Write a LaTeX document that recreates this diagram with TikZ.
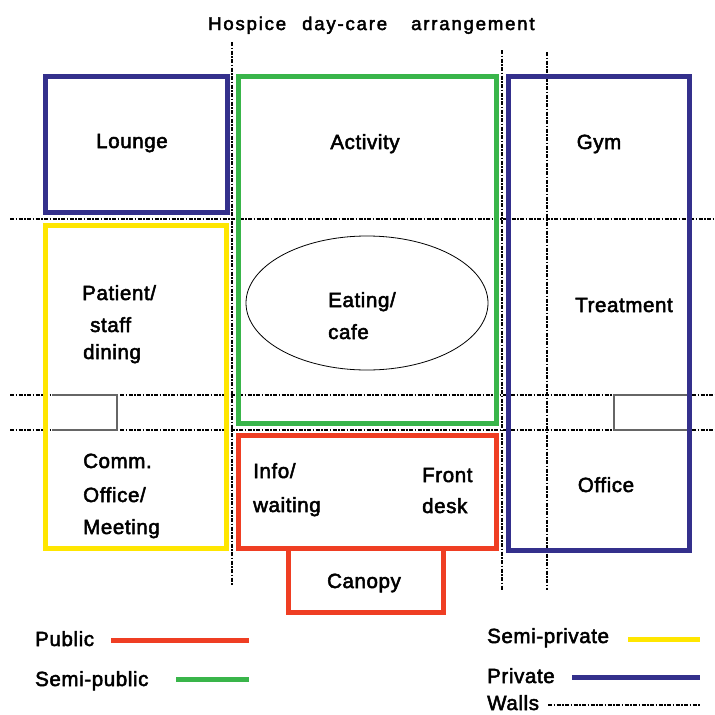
\documentclass[tikz,border=0pt]{standalone}
\usepackage{fontspec}
\setmainfont{Liberation Sans}[LetterSpace=3, FakeBold=2.5]
\newfontfamily\titlefont{Liberation Sans}[LetterSpace=10, FakeBold=2.5]
\definecolor{navy}{RGB}{52,48,140}
\definecolor{grn}{RGB}{57,181,74}
\definecolor{yel}{RGB}{255,230,0}
\definecolor{rd}{RGB}{239,62,35}
\tikzset{
  wall/.style={line width=2.2pt, dash pattern=on 4pt off 1.5pt on 1.5pt off 1.5pt},
  zone/.style={line width=5pt},
  lbl/.style={inner sep=0pt, font=\fontsize{20.5}{24}\selectfont},
  ttl/.style={inner sep=0pt, font=\titlefont\fontsize{18.5}{22}\selectfont, anchor=base west},
  legline/.style={line width=5pt},
  smallbox/.style={draw=gray!80!black, line width=1.4pt}
}
\begin{document}
\begin{tikzpicture}[x=1pt,y=-1pt]
\useasboundingbox (0,0) rectangle (715,715);
\clip (0,0) rectangle (715,715);
% title
\node[ttl] (t1) at (208,30) {Hospice};
\node[ttl] (t2) at (302,30) {day-care};
\node[ttl] (t3) at (411,30) {arrangement};
% walls
\draw[wall] (232,42) -- (232,585);
\draw[wall] (502,50) -- (502,590);
\draw[wall] (547,52) -- (547,590);
\draw[wall] (10,219) -- (715,219);
\draw[wall] (10,395) -- (52,395);
\draw[wall] (120,395) -- (612,395);
\draw[wall] (692,395) -- (715,395);
\draw[wall] (10,430) -- (52,430);
\draw[wall] (120,430) -- (612,430);
\draw[wall] (692,430) -- (715,430);
% small boxes
\draw[smallbox] (52,395) -- (117,395) -- (117,430) -- (52,430);
\draw[smallbox] (689,395) -- (614,395) -- (614,430) -- (689,430);
% zones
\draw[zone, navy] (45,76) rectangle (227,212);
\draw[zone, yel] (45,225) rectangle (226,548);
\draw[zone, grn] (238,76) rectangle (496,423);
\draw[zone, rd] (288,548) rectangle (443,612);
\draw[zone, rd] (238,435) rectangle (496,548);
\draw[zone, navy] (508,76) rectangle (689,550);
\draw[line width=0.8pt] (367,303) ellipse [x radius=121, y radius=67];
% labels
\node[lbl, anchor=base] (lounge) at (132,148) {Lounge};
\node[lbl, anchor=base] (activity) at (365,149) {Activity};
\node[lbl, anchor=base] (gym) at (599,149) {Gym};
\node[lbl, anchor=base west] (pat1) at (82,300) {Patient/};
\node[lbl, anchor=base west] (pat2) at (90,332) {staff};
\node[lbl, anchor=base west] (pat3) at (83,359) {dining};
\node[lbl, anchor=base west] (eat1) at (328,307) {Eating/};
\node[lbl, anchor=base west] (eat2) at (328,339) {cafe};
\node[lbl, anchor=base] (treat) at (624,312) {Treatment};
\node[lbl, anchor=base west] (com1) at (83,468) {Comm.};
\node[lbl, anchor=base west] (com2) at (83,502) {Office/};
\node[lbl, anchor=base west] (com3) at (83,534) {Meeting};
\node[lbl, anchor=base west] (info1) at (253,478) {Info/};
\node[lbl, anchor=base west] (info2) at (253,512) {waiting};
\node[lbl, anchor=base west] (fd1) at (422,482) {Front};
\node[lbl, anchor=base west] (fd2) at (422,513) {desk};
\node[lbl, anchor=base] (office) at (606,492) {Office};
\node[lbl, anchor=base] (canopy) at (364,588) {Canopy};
% legend
\node[lbl, anchor=base west] (lpub) at (35,646) {Public};
\coordinate (pubA) at (111,640); \coordinate (pubB) at (249,640);
\draw[legline, rd] (pubA) -- (pubB);
\node[lbl, anchor=base west] (lspub) at (35,686) {Semi-public};
\coordinate (spubA) at (176,679); \coordinate (spubB) at (249,679);
\draw[legline, grn] (spubA) -- (spubB);
\node[lbl, anchor=base west] (lspri) at (487,643) {Semi-private};
\coordinate (spriA) at (628,639); \coordinate (spriB) at (700,639);
\draw[legline, yel] (spriA) -- (spriB);
\node[lbl, anchor=base west] (lpri) at (487,683) {Private};
\coordinate (priA) at (572,677); \coordinate (priB) at (700,677);
\draw[legline, navy] (priA) -- (priB);
\node[lbl, anchor=base west] (lwall) at (487,710) {Walls};
\coordinate (wA) at (548,705); \coordinate (wB) at (700,705);
\draw[wall, line width=1.4pt] (wA) -- (wB);
\end{tikzpicture}
\end{document}
